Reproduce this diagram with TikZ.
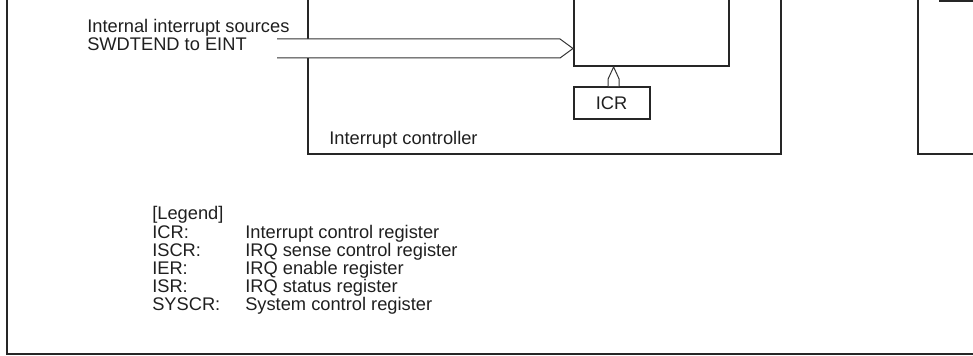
\documentclass[tikz,border=0pt]{standalone}
\usepackage{fontspec}
\setmainfont{Liberation Sans}
\usetikzlibrary{positioning, calc}

\begin{document}
\begin{tikzpicture}[
  txt/.style={inner sep=0pt, anchor=base west, text=black!88,
              font=\fontsize{13}{12.9}\selectfont},
  block/.style={rectangle, draw=black!85, line width=1.4pt, inner sep=0pt},
  regbox/.style={block, minimum width=1.9cm, minimum height=0.79cm,
                 text=black!88, font=\fontsize{13}{13.6}\selectfont},
  bus/.style={draw=black!80, line width=0.7pt, fill=white},
  frame/.style={draw=black!85, line width=1.4pt},
]

%% ── Canvas (cropped view) ──────────────────────────────────────────
\useasboundingbox (0,0) rectangle (24.325,8.9);
\clip (0,0) rectangle (24.325,8.9);
\draw[frame] (0.175,9.5) -- (0.175,0.06) -- (25,0.06);

%% ── Blocks ──────────────────────────────────────────────────────────
\node[block, minimum width=11.825cm, minimum height=4.4375cm]
     (ctrl) at (13.6125, 7.28) {};
\node[block, minimum width=3.875cm, minimum height=2.25cm]
     (core) at (16.2875, 8.375) {};
\node[regbox] (icr) at (15.29, 6.33) {ICR};
\node[block, minimum width=3.05cm, minimum height=4.4375cm]
     (rblk) at (24.475, 7.28) {};
\node[block, minimum width=2.0cm, minimum height=0.625cm]
     (rreg) at (24.5, 9.1875) {};

%% ── Labels ──────────────────────────────────────────────────────────
\node[txt, align=left] (src) at (2.175, 7.625)
     {Internal interrupt sources\\SWDTEND to EINT};
\node[txt] (ctrllbl) at (8.225, 5.275) {Interrupt controller};

%% ── Internal sources bus ────────────────────────────────────────────
\coordinate (busin) at (6.925, 7.6875);
\coordinate (bustip) at (core.west |- busin);
\draw[bus] ($(busin)+(0,0.2375)$) -- ($(bustip)+(-0.325,0.2375)$)
    -- (bustip)
    -- ($(bustip)+(-0.325,-0.2375)$) -- ($(busin)+(0,-0.2375)$);

%% ── ICR -> core ─────────────────────────────────────────────────────
\coordinate (icrtip) at ($(icr.north |- core.south)+(0.05,0)$);
\coordinate (icrbase) at ($(icr.north)+(0.05,0)$);
\draw[bus] ($(icrbase)+(-0.1375,0)$) -- ($(icrtip)+(-0.1375,-0.3)$)
    -- (icrtip)
    -- ($(icrtip)+(0.1375,-0.3)$) -- ($(icrbase)+(0.1375,0)$);

%% ── Legend ──────────────────────────────────────────────────────────
\node[txt] (leg) at (3.8, 3.4) {[Legend]};
\foreach \abbr/\desc [count=\i] in {ICR:/Interrupt control register,
    ISCR:/IRQ sense control register, IER:/IRQ enable register,
    ISR:/IRQ status register, SYSCR:/System control register} {
  \node[txt] (leg\i)  at (3.8,   3.4-0.455*\i) {\abbr};
  \node[txt] (legd\i) at (6.125, 3.4-0.455*\i) {\desc};
}

\end{tikzpicture}
\end{document}
